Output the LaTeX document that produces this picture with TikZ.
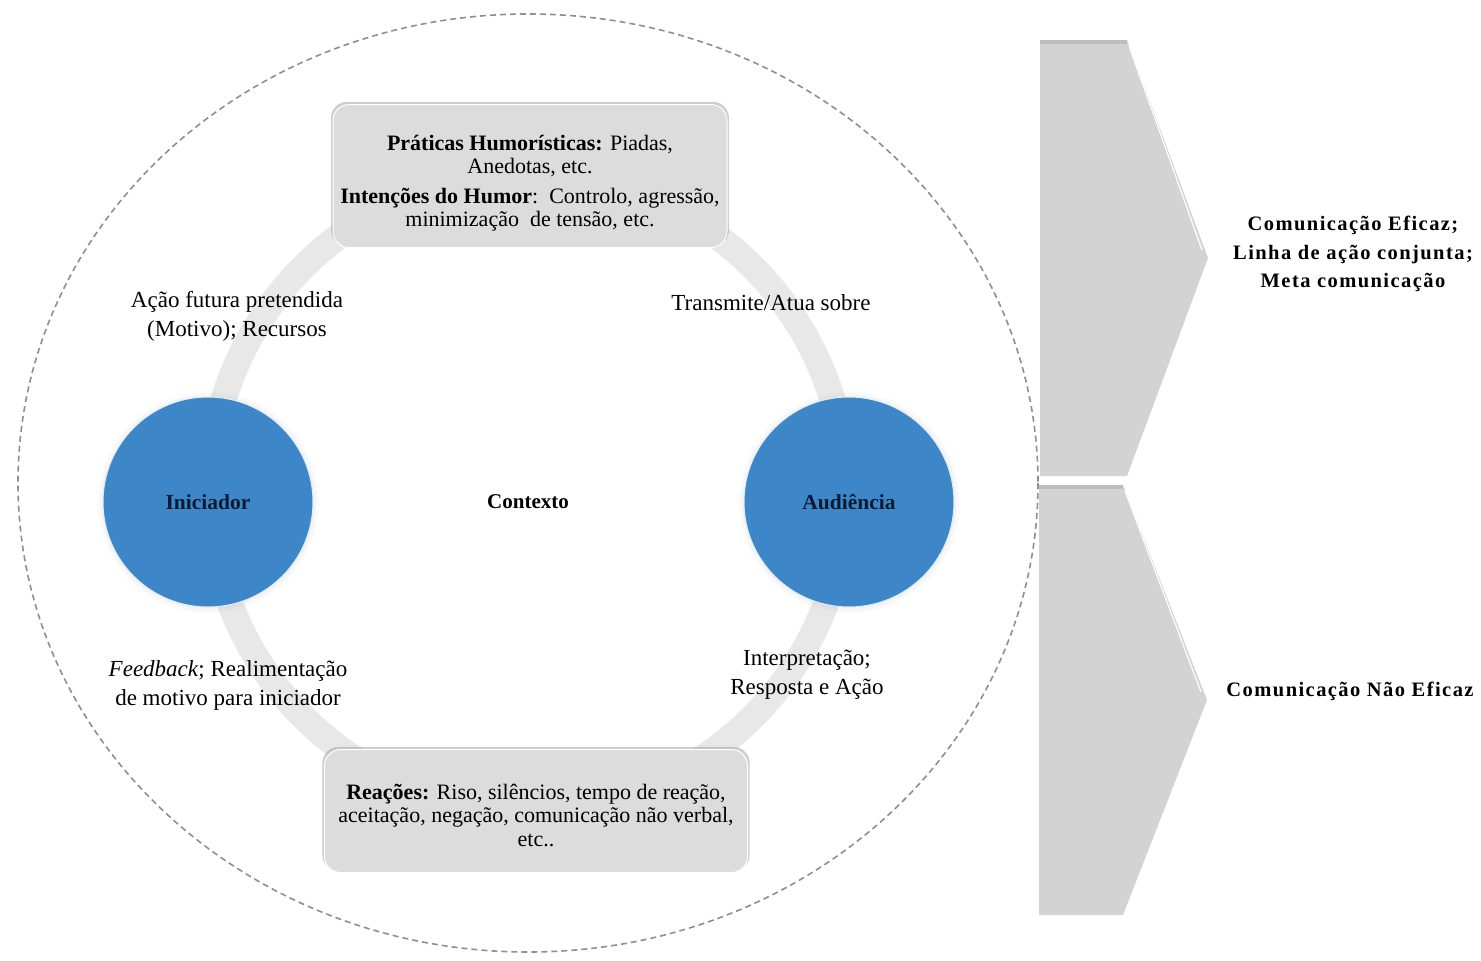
\documentclass[tikz,border=0pt]{standalone}
\usepackage{fontspec}
\setmainfont{Liberation Serif}
\newfontfamily\trackedfont{Liberation Serif}[LetterSpace=7]
\usetikzlibrary{shadows}

\definecolor{ringgray}{HTML}{E8E8E8}
\definecolor{boxgray}{HTML}{DCDCDC}
\definecolor{discblue}{HTML}{3D87C8}
\definecolor{chevgray}{HTML}{D3D3D3}
\definecolor{chevtop}{HTML}{BDBDBD}
\definecolor{dashgray}{HTML}{8F8F8F}
\definecolor{inkblue}{HTML}{0B1A33}

\tikzset{
  txt/.style={font=\fontsize{23}{29}\selectfont, align=center, inner sep=1pt},
  boxtxt/.style={font=\fontsize{22}{23.5}\selectfont, align=center},
  infobox/.style={rounded corners=16pt, fill=boxgray, draw=white, line width=1pt,
    general shadow={shadow xshift=0pt, shadow yshift=2pt, shadow scale=1.01,
      fill=gray!70, opacity=.55}},
  disc/.style={circle, fill=discblue, draw=white!85!discblue, line width=1pt,
    minimum size=210pt, inner sep=0pt,
    font=\fontsize{21.5}{24}\selectfont\bfseries, text=inkblue,
    circular drop shadow={shadow xshift=0pt, shadow yshift=0pt, shadow scale=1.06,
      opacity=.25}},
  chevron/.style={fill=chevgray, draw=none},
  outcome/.style={font=\fontsize{20.5}{28.5}\selectfont\bfseries\trackedfont, align=center}
}

\begin{document}
\begin{tikzpicture}[x=1pt, y=-1pt]
  \useasboundingbox (0,0) rectangle (1481,961);
  \fill[white] (0,0) rectangle (1481,961);

  % context boundary
  \draw[dashgray, line width=1.6pt, dash pattern=on 6pt off 4pt]
    (528,483) ellipse [x radius=510, y radius=469];

  % cycle ring behind the nodes
  \draw[ringgray, line width=26pt] (528,492) circle [radius=318];

  % outcome chevrons
  \fill[chevron] (1040,40) -- (1127,40) -- (1208,258) -- (1127,476) -- (1040,476) -- cycle;
  \fill[chevtop] (1040,40) rectangle (1127,44);
  \draw[white, line width=1.2pt] (1129,46) -- (1202,250);
  \fill[chevron] (1039,485) -- (1123,485) -- (1207,700) -- (1123,915) -- (1039,915) -- cycle;
  \fill[chevtop] (1039,485) rectangle (1123,489);
  \draw[white, line width=1.2pt] (1125,491) -- (1201,692);

  % boxes
  \node[infobox, minimum width=394pt, minimum height=143pt] (praticas) at (530,176) {};
  \node[boxtxt] at (530,183) {\textbf{Práticas Humorísticas:} Piadas,\\
    Anedotas, etc.\\[6pt]
    \textbf{Intenções do Humor}:\ \ Controlo, agressão,\\
    minimização\ \ de tensão, etc.};

  \node[infobox, minimum width=423pt, minimum height=123pt] (reacoes) at (536,811) {};
  \node[boxtxt] at (536,815) {\textbf{Reações:} Riso, silêncios, tempo de reação,\\
    aceitação, negação, comunicação não verbal,\\
    etc..};

  % actors
  \node[disc] (iniciador) at (208,502) {Iniciador};
  \node[disc] (audiencia) at (849,502) {Audiência};
  \node[txt, font=\fontsize{21}{24}\selectfont\bfseries] (contexto) at (528,502) {Contexto};

  % ring labels
  \node[txt] (acao) at (237,316) {Ação futura pretendida\\(Motivo); Recursos};
  \node[txt] (transmite) at (771,303) {Transmite/Atua sobre};
  \node[txt] (feedback) at (228,685) {\textit{Feedback}; Realimentação\\de motivo para iniciador};
  \node[txt] (interp) at (807,675) {Interpretação;\\Resposta e Ação};

  % outcomes
  \node[outcome] (eficaz) at (1353,254) {Comunicação Eficaz;\\Linha de ação conjunta;\\Meta comunicação};
  \node[outcome] (naoeficaz) at (1350,691) {Comunicação Não Eficaz};
\end{tikzpicture}
\end{document}
